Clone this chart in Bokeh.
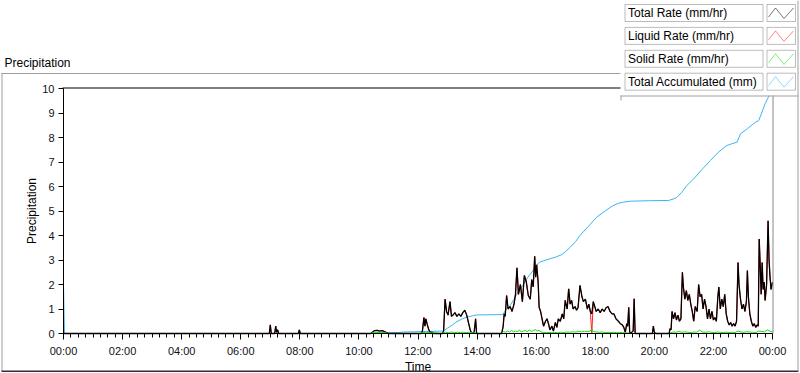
import numpy as np
from bokeh.plotting import figure
from bokeh.models import FixedTicker, BoxAnnotation, Label, PolyAnnotation, Range1d
from bokeh.embed import file_html
from bokeh.resources import INLINE

# ---------------- data (minutes since midnight) ----------------
acc_min = [0, 1, 2, 628, 640, 680, 690, 735, 770, 773, 780, 790, 797, 810, 820, 830, 840,
           891, 895, 900, 907, 915, 925, 934, 945, 955, 961, 966, 975, 988, 1000, 1012, 1020,
           1029, 1040, 1049, 1065, 1083, 1100, 1116, 1128, 1137, 1151, 1190, 1229, 1240, 1246,
           1256, 1266, 1280, 1297, 1314, 1330, 1347, 1358, 1368, 1375, 1389, 1405, 1412, 1418,
           1425, 1435, 1440]
acc_total = [2.0, 1.0, 0, 0, 0.03, 0.04, 0.06, 0.08, 0.1, 0.12, 0.22, 0.35, 0.46, 0.6, 0.67, 0.72, 0.76,
             0.77, 0.85, 1.0, 1.14, 1.4, 1.75, 2.0, 2.35, 2.6, 2.78, 2.9, 2.97, 3.05, 3.12, 3.22, 3.35,
             3.52, 3.75, 4.0, 4.35, 4.75, 5.0, 5.22, 5.32, 5.36, 5.4, 5.42, 5.43, 5.5, 5.56,
             5.77, 6.04, 6.31, 6.7, 7.06, 7.4, 7.67, 7.75, 7.81, 8.15, 8.36, 8.62, 8.69, 9.0,
             9.38, 9.78, 10.0]

rate_min = [0, 418, 420, 422, 429, 431, 433, 435, 437, 477, 479, 481,
            624, 628, 632, 637, 642, 647, 652, 657, 660,
            726, 729, 732, 734, 736, 739, 742, 745, 749, 752,
            770, 772, 775, 778, 781, 785, 788, 791, 795, 799, 803, 807, 811, 815, 819, 823, 826, 829, 834, 837, 839,
            890, 893, 895, 897, 900, 903, 907, 911, 915, 918, 921, 924, 928, 932, 936, 940, 944, 948, 951, 954,
            957, 959, 961, 964, 966, 969, 972, 975, 979, 982, 985, 988, 992, 995, 999,
            1002, 1005, 1009, 1013, 1016, 1019, 1023, 1026, 1029, 1032, 1035, 1039, 1042, 1045, 1049, 1053, 1056,
            1060, 1064, 1067, 1070, 1073, 1076, 1079, 1082, 1086, 1090, 1094, 1098,
            1102, 1106, 1110, 1114, 1118, 1122, 1127, 1131, 1135, 1138, 1141, 1144, 1146, 1148, 1150, 1154, 1157,
            1159, 1161, 1196, 1198, 1200, 1203,
            1230, 1232, 1234, 1236, 1239, 1242, 1245, 1248, 1251, 1254, 1257, 1259, 1262, 1265, 1268, 1271, 1274,
            1277, 1280, 1283, 1287, 1290, 1293, 1296, 1299,
            1302, 1305, 1308, 1311, 1314, 1317, 1320, 1323, 1326, 1329, 1331, 1334, 1337, 1340, 1343, 1346, 1349,
            1352, 1355, 1358, 1361, 1364, 1367, 1370, 1372, 1375, 1378,
            1381, 1384, 1387, 1389, 1391, 1394, 1397, 1400, 1403, 1406, 1409, 1411, 1413, 1415, 1417, 1419, 1421,
            1423, 1425, 1428, 1431, 1433, 1435, 1437, 1440]

total_rate = [0, 0, 0.35, 0, 0, 0.3, 0.05, 0.15, 0, 0, 0.15, 0,
              0, 0.06, 0.12, 0.13, 0.1, 0.12, 0.08, 0.03, 0,
              0, 0.1, 0.65, 0.3, 0.6, 0.35, 0.15, 0.05, 0.05, 0,
              0, 0.1, 1.4, 0.9, 0.75, 1.3, 0.7, 0.75, 0.85, 0.7, 0.8, 0.7, 0.85, 0.95, 0.75, 0.4, 0.15, 0, 0.05, 0.6, 0,
              0, 0.3, 0.8, 0.7, 1.55, 1.0, 1.1, 0.9, 1.2, 1.6, 2.68, 1.6, 2.0, 1.3, 2.37, 2.1, 1.55, 1.4, 2.2, 1.9,
              3.15, 2.3, 2.8, 2.1, 1.07, 0.9, 0.6, 0.3, 0.5, 0.6, 0.4, 0.15, 0.3, 0.1, 0.45,
              0.25, 0.6, 0.5, 0.8, 0.6, 1.35, 1.0, 1.82, 1.2, 1.35, 1.0, 1.1, 0.95, 1.05, 1.96, 1.5, 1.3,
              1.4, 1.0, 1.2, 0.9, 0.8, 1.3, 1.1, 0.9, 1.0, 0.85, 1.0, 0.9,
              1.05, 1.1, 0.9, 0.8, 0.8, 0.6, 0.5, 0.4, 0.35, 0.25, 0.05, 0.4, 0.3, 1.07, 0, 0.05, 0.1,
              1.42, 0, 0, 0.3, 0.05, 0,
              0, 0.2, 0.15, 0.9, 0.6, 0.85, 0.55, 0.75, 0.5, 0.6, 2.5, 1.9, 1.4, 1.75, 1.35, 1.6, 1.2,
              0.9, 0.5, 1.1, 0.9, 2.0, 1.5, 1.6, 1.0,
              1.4, 1.1, 0.6, 1.0, 0.6, 0.9, 0.55, 0.65, 0.5, 1.5, 1.9, 1.0, 1.4, 1.1, 1.6, 0.8, 0.5,
              0.35, 0.45, 0.3, 0.4, 0.3, 0.5, 2.9, 2.0, 1.4, 1.0,
              1.2, 0.9, 1.3, 2.57, 1.5, 0.8, 0.5, 0.3, 0.4, 0.25, 0.35, 0.3, 3.86, 2.8, 1.6, 2.9, 1.8,
              2.1, 1.35, 2.0, 4.6, 3.0, 2.3, 1.8, 2.1]

liquid_rate = [0, 0, 0.35, 0, 0, 0.3, 0.05, 0.15, 0, 0, 0.15, 0,
               0, 0.06, 0.12, 0.13, 0.1, 0.12, 0.08, 0.03, 0,
               0, 0.1, 0.65, 0.3, 0.6, 0.35, 0.15, 0.05, 0.05, 0,
               0, 0.1, 1.4, 0.9, 0.75, 1.3, 0.7, 0.75, 0.85, 0.7, 0.8, 0.7, 0.85, 0.95, 0.75, 0.4, 0.15, 0, 0.05, 0.6, 0,
               0, 0.3, 0.8, 0.7, 1.55, 1.0, 1.1, 0.9, 1.2, 1.6, 2.68, 1.6, 2.0, 1.3, 2.37, 2.1, 1.55, 1.4, 2.2, 1.9,
               3.15, 2.3, 2.8, 2.1, 1.07, 0.9, 0.6, 0.3, 0.5, 0.6, 0.4, 0.15, 0.3, 0.1, 0.45,
               0.25, 0.6, 0.5, 0.8, 0.6, 1.35, 1.0, 1.82, 1.2, 1.35, 1.0, 1.1, 0.95, 1.05, 1.96, 1.5, 1.3,
               1.4, 1.0, 1.2, 0.9, 0, 1.3, 1.1, 0.9, 1.0, 0.85, 1.0, 0.9,
               1.05, 1.1, 0.9, 0.8, 0.8, 0.6, 0.5, 0.4, 0.35, 0.25, 0.05, 0.4, 0.3, 1.07, 0, 0.05, 0.1,
               1.42, 0, 0, 0.3, 0.05, 0,
               0, 0.2, 0.15, 0.9, 0.6, 0.85, 0.55, 0.75, 0.5, 0.6, 2.5, 1.9, 1.4, 1.75, 1.35, 1.6, 1.2,
               0.9, 0.5, 1.1, 0.9, 2.0, 1.5, 1.6, 1.0,
               1.4, 1.1, 0.6, 1.0, 0.6, 0.9, 0.55, 0.65, 0.5, 1.5, 1.9, 1.0, 1.4, 1.1, 1.6, 0.8, 0.5,
               0.35, 0.45, 0.3, 0.4, 0.3, 0.5, 2.9, 2.0, 1.4, 1.0,
               1.2, 0.9, 1.3, 2.57, 1.5, 0.8, 0.5, 0.3, 0.4, 0.25, 0.35, 0.3, 3.86, 2.8, 1.6, 2.9, 1.8,
               2.1, 1.35, 2.0, 4.6, 3.0, 2.3, 1.8, 2.1]

solid_min = [626, 632, 638, 644, 650, 657, 658,
             725, 730, 736, 742, 748, 755, 760, 761,
             770, 776, 782, 788, 794, 800, 806, 812, 818, 824, 830, 838, 839,
             890, 894, 898, 902, 906, 910, 914, 918, 922, 926, 930, 934, 938, 942, 946, 950, 954, 958, 962,
             966, 970, 975, 980, 986, 992, 998, 1004, 1010, 1016, 1022, 1028, 1034, 1040, 1046, 1052, 1058,
             1064, 1070, 1073, 1076, 1082, 1088, 1094, 1100, 1106, 1112, 1118, 1124, 1130, 1136, 1142, 1150, 1151,
             1232, 1238, 1244, 1250, 1256, 1262, 1268, 1274, 1280, 1286, 1292, 1298, 1304, 1310, 1316, 1322,
             1328, 1334, 1340, 1346, 1352, 1358, 1364, 1370, 1376, 1382, 1388, 1394, 1400, 1406, 1412, 1418,
             1424, 1430, 1436, 1440]
solid_rate = [0.02, 0.05, 0.04, 0.05, 0.04, 0.02, None,
              0.02, 0.04, 0.05, 0.04, 0.03, 0.03, 0.02, None,
              0.02, 0.05, 0.04, 0.06, 0.04, 0.05, 0.04, 0.05, 0.04, 0.05, 0.03, 0.02, None,
              0.02, 0.08, 0.05, 0.1, 0.06, 0.12, 0.07, 0.1, 0.08, 0.13, 0.07, 0.1, 0.12, 0.08, 0.14, 0.09, 0.12, 0.16, 0.1,
              0.13, 0.06, 0.04, 0.03, 0.05, 0.03, 0.04, 0.03, 0.05, 0.04, 0.06, 0.05, 0.07, 0.06, 0.08, 0.07, 0.09,
              0.08, 0.1, 0.2, 0.08, 0.06, 0.05, 0.06, 0.04, 0.05, 0.04, 0.05, 0.03, 0.04, 0.03, 0.03, 0.02, None,
              0.02, 0.06, 0.05, 0.08, 0.05, 0.07, 0.05, 0.04, 0.06, 0.05, 0.14, 0.06, 0.05, 0.07, 0.05, 0.04,
              0.06, 0.05, 0.04, 0.05, 0.04, 0.05, 0.04, 0.1, 0.06, 0.05, 0.07, 0.06, 0.05, 0.04, 0.1, 0.08,
              0.07, 0.15, 0.08, 0.07]

x_tick_hours = [0, 2, 4, 6, 8, 10, 12, 14, 16, 18, 20, 22, 24]
x_tick_labels = ["00:00", "02:00", "04:00", "06:00", "08:00", "10:00", "12:00",
                 "14:00", "16:00", "18:00", "20:00", "22:00", "00:00"]
y_ticks = [0, 1, 2, 3, 4, 5, 6, 7, 8, 9, 10]

legend_labels = ["Total Rate (mm/hr)", "Liquid Rate (mm/hr)", "Solid Rate (mm/hr)", "Total Accumulated (mm)"]

# ---------------- style / layout ----------------
BLACK, RED, GREEN, BLUE = "#000000", "#ff2020", "#10e010", "#3cb4f0"
legend_colors = [BLACK, RED, GREEN, BLUE]
FONT = "Liberation Sans"
W, H = 800, 373
# pixel anchors of the data area: x 0h..24h, y 0..10
PX0, PX1, PY0, PY1 = 63.0, 772.0, 333.0, 88.0


def X(px):
    return (px - PX0) / (PX1 - PX0) * 24.0


def Y(py):
    return (PY0 - py) / (PY0 - PY1) * 10.0


p = figure(width=W, height=H,
           x_range=Range1d(X(0), X(W)), y_range=Range1d(Y(H), Y(0)),
           output_backend="svg", toolbar_location=None, tools="",
           min_border=0, min_border_left=0, min_border_right=0, min_border_top=0, min_border_bottom=0,
           background_fill_color="white", border_fill_color="white")
p.xgrid.visible = False
p.ygrid.visible = False
p.outline_line_color = None

xa = p.xaxis[0]
xa.ticker = FixedTicker(ticks=x_tick_hours, minor_ticks=[i * 0.25 for i in range(97)])
xa.major_label_overrides = {h: lab for h, lab in zip(x_tick_hours, x_tick_labels)}
xa.fixed_location = 0
xa.bounds = (0, 24)
ya = p.yaxis[0]
ya.ticker = FixedTicker(ticks=y_ticks, minor_ticks=[])
ya.fixed_location = 0
ya.bounds = (0, 10)
for ax in (xa, ya):
    ax.axis_line_color = "black"
    ax.major_tick_line_color = "black"
    ax.minor_tick_line_color = "black"
    ax.major_tick_in = 0
    ax.minor_tick_in = 0
    ax.major_label_text_font = FONT
    ax.major_label_text_font_size = "11px"
    ax.major_label_text_color = "#101018"
    ax.axis_label_text_font = FONT
    ax.axis_label_text_font_size = "12px"
    ax.axis_label_text_font_style = "normal"
    ax.axis_label_text_color = "black"
xa.axis_label = "Time"
xa.major_tick_out = 6
xa.minor_tick_out = 4
xa.major_label_standoff = 5
xa.axis_label_standoff = 0
ya.axis_label = "Precipitation"
ya.major_tick_out = 5
ya.minor_tick_out = 0
ya.major_label_standoff = 4
ya.axis_label_standoff = 0

# ---------------- series ----------------
p.line(np.asarray(acc_min, float) / 60.0, acc_total, line_color=BLUE, line_width=1)
p.line(np.asarray(rate_min, float) / 60.0, liquid_rate, line_color=RED, line_width=1)
p.line(np.asarray(rate_min, float) / 60.0, total_rate, line_color=BLACK, line_width=1.3)
p.line(np.asarray(solid_min, float) / 60.0, np.array(solid_rate, dtype=float), line_color=GREEN, line_width=1)


def bar(l, r, t, b, color):
    p.add_layout(BoxAnnotation(left=X(l), right=X(r), top=Y(t), bottom=Y(b),
                               fill_color=color, fill_alpha=1, line_alpha=0))


# plot area borders
bar(PX0 - 1, PX1 + 1, PY1 - 1, PY1, "black")
bar(PX1, PX1 + 1, PY1, PY0, "#8a8a8a")
# outer panel frame
bar(1, 798, 72.5, 73.5, "#a0a0a0")
bar(1, 2, 72.5, 371, "#a0a0a0")
bar(1, 798, 370, 371.5, "#303030")

p.add_layout(Label(x=X(4), y=Y(62), text="Precipitation", text_font=FONT,
                   text_font_size="12px", text_baseline="middle", text_align="left",
                   text_color="black"))

# legend panel
p.add_layout(BoxAnnotation(left=X(620), right=X(798), top=Y(0), bottom=Y(95),
                           fill_color="white", fill_alpha=1, line_alpha=0))
bar(620, 798, 95, 96, "#a0a0a0")
bar(620, 621, 95, 100, "#a0a0a0")
bar(797, 798, 0, 371, "#a0a0a0")

for i, (lab, col) in enumerate(zip(legend_labels, legend_colors)):
    ty = 4 + i * 22.9
    p.add_layout(BoxAnnotation(left=X(624.5), right=X(762.5), top=Y(ty), bottom=Y(ty + 17),
                               fill_color="white", fill_alpha=1, line_color="#202020", line_width=1))
    p.add_layout(BoxAnnotation(left=X(766.5), right=X(795), top=Y(ty), bottom=Y(ty + 17),
                               fill_color="white", fill_alpha=1, line_color="#202020", line_width=1))
    p.add_layout(Label(x=X(627.5), y=Y(ty + 8.8), text=lab, text_font=FONT, text_font_size="12px",
                       text_baseline="middle", text_align="left", text_color="black"))
    zx = [1.5, 8.5, 17, 26.5, 17, 8.5]
    zy = [12.5, 3.5, 14, 3.5, 14, 3.5]
    p.add_layout(PolyAnnotation(xs=[X(766.5 + a) for a in zx], ys=[Y(ty + b) for b in zy],
                                fill_alpha=0, line_color=col, line_width=1))

open("out.html", "w").write(file_html(p, INLINE))
